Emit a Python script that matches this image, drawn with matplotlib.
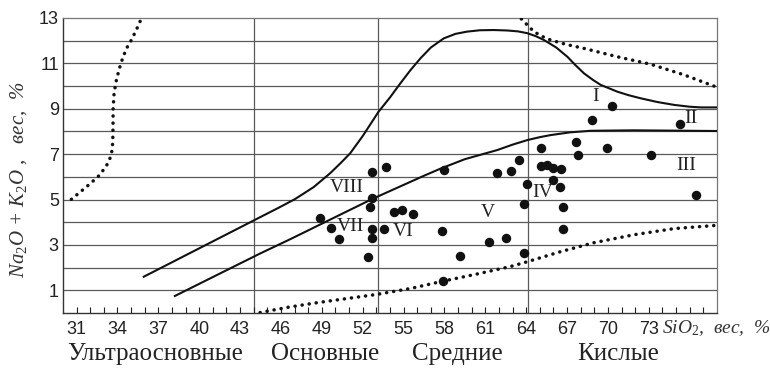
import matplotlib
matplotlib.use("Agg")
import matplotlib.pyplot as plt
import matplotlib.transforms as mtransforms

plt.rcParams['mathtext.fontset'] = 'custom'
plt.rcParams['mathtext.it'] = 'Liberation Serif:italic'
plt.rcParams['mathtext.rm'] = 'Liberation Serif'

# ---- data (SiO2 wt%, Na2O+K2O wt%) ----
sio2 = [48.87, 49.68, 50.27, 52.37, 52.50, 52.68, 52.68, 52.68, 52.70, 53.53,
        53.73, 54.32, 54.88, 55.66, 57.83, 57.87, 57.94, 59.17, 61.28, 61.87,
        62.50, 62.89, 63.46, 63.83, 63.83, 64.08, 65.09, 65.11, 65.50, 65.96,
        65.98, 66.58, 66.51, 66.70, 66.70, 67.68, 67.80, 68.86, 69.89, 70.31,
        73.12, 75.30, 76.49]
alk = [4.19, 3.73, 3.25, 2.48, 4.67, 5.05, 6.23, 3.71, 3.29, 3.69,
       6.43, 4.43, 4.55, 4.35, 3.61, 1.41, 6.30, 2.53, 3.12, 6.18,
       3.32, 6.24, 6.75, 4.80, 2.63, 5.67, 7.26, 6.46, 6.53, 6.40,
       5.86, 6.35, 5.57, 4.68, 3.69, 7.52, 6.95, 8.52, 7.28, 9.12,
       6.95, 8.32, 5.22]

# upper solid boundary
upper_x = [35.93, 44.46, 45.8, 47.03, 48.4, 49.61, 50.4, 51.08, 52.0, 53.16,
           54.0, 54.76, 55.5, 56.23, 57.0, 57.94, 58.8, 59.66, 60.6, 61.62,
           62.6, 63.4, 64.08, 64.7, 65.30, 66.2, 67.02, 67.6, 68.24, 68.9,
           69.47, 70.70, 71.5, 72.41, 73.6, 74.86, 76.0, 76.83, 78.0]
upper_y = [1.60, 4.22, 4.63, 5.02, 5.55, 6.16, 6.62, 7.04, 7.80, 8.87,
           9.50, 10.12, 10.70, 11.22, 11.70, 12.10, 12.30, 12.40, 12.46, 12.47,
           12.45, 12.41, 12.33, 12.20, 12.03, 11.70, 11.29, 10.93, 10.56, 10.27,
           10.05, 9.75, 9.60, 9.46, 9.30, 9.17, 9.09, 9.06, 9.06]
# lower solid boundary
lower_x = [38.21, 44.46, 46.67, 52.68, 56.5, 57.70, 59.5, 61.87, 63.0, 64.08,
           65.0, 65.79, 67.2, 68.73, 71.92, 78.0]
lower_y = [0.75, 2.62, 3.25, 5.02, 6.05, 6.36, 6.78, 7.18, 7.42, 7.62,
           7.75, 7.84, 7.96, 8.03, 8.05, 8.02]
# dotted curves
ultra_x = [30.61, 31.3, 32.0, 32.69, 33.2, 33.55, 33.65, 33.67, 33.68, 33.75,
           33.92, 34.15, 34.41, 34.7, 35.02, 35.4, 35.76]
ultra_y = [5.01, 5.35, 5.70, 6.08, 6.50, 6.95, 7.50, 8.20, 9.00, 9.70,
           10.27, 10.80, 11.29, 11.70, 12.03, 12.50, 12.99]
top_x = [63.64, 64.08, 64.56, 65.2, 65.79, 66.9, 68.24, 70.70, 73.15, 75.60, 78.0]
top_y = [12.96, 12.69, 12.40, 12.18, 12.03, 11.84, 11.66, 11.29, 10.96, 10.49, 9.95]
bot_x = [44.46, 46.5, 48.6, 51.0, 53.04, 55.5, 57.87, 60.4, 62.85, 64.08,
         66.5, 68.98, 71.92, 74.86, 77.93]
bot_y = [0.02, 0.25, 0.45, 0.65, 0.82, 1.08, 1.40, 1.72, 2.05, 2.26,
         2.70, 3.10, 3.45, 3.72, 3.86]

field_labels = ['I', 'II', 'III', 'IV', 'V', 'VI', 'VII', 'VIII']
field_x = [69.10, 76.09, 75.72, 65.20, 61.16, 54.98, 51.08, 50.86]
field_y = [9.52, 8.59, 6.48, 5.33, 4.41, 3.57, 3.79, 5.55]

boundaries = [44.0, 53.1, 64.1]
groups = ['Ультраосновные', 'Основные', 'Средние', 'Кислые']
group_x = [36.74, 49.24, 58.95, 70.72]

xticks = list(range(31, 74, 3))
yticks = list(range(1, 14, 2))

# ---- figure ----
fig = plt.figure(figsize=(7.7, 3.73), dpi=100)
ax = fig.add_axes([63/770, 1-313/373, (717-63)/770, (313-18)/373])
ax.set_xlim(30, 78)
ax.set_ylim(0, 13)

gcol = '#5a5a5a'
for yv in range(1, 13):
    ax.axhline(yv, color=gcol, lw=0.9, zorder=1)
for xv in boundaries:
    ax.axvline(xv, color=gcol, lw=0.9, zorder=1)

ax.plot(upper_x, upper_y, color='#111111', lw=1.5, zorder=3, solid_joinstyle='round')
ax.plot(lower_x, lower_y, color='#111111', lw=1.5, zorder=3, solid_joinstyle='round')
for xs, ys in [(ultra_x, ultra_y), (top_x, top_y), (bot_x, bot_y)]:
    ax.plot(xs, ys, color='#111111', lw=2.5, linestyle=(0, (0.05, 2.0)),
            dash_capstyle='round', zorder=3)

ax.plot(sio2, alk, 'o', color='#111111', ms=5.8, zorder=4)

for t, xv, yv in zip(field_labels, field_x, field_y):
    ax.text(xv, yv, t, family='Liberation Serif', fontsize=14, ha='center',
            va='center', color='#222222', zorder=5)

ax.set_xticks(xticks)
ax.set_xticks(list(range(31, 78)), minor=True)
ax.set_yticks(yticks)
ax.tick_params(axis='x', which='both', direction='in', length=4.5, width=0.8,
               color='#222222', pad=6)
ax.tick_params(axis='y', which='both', length=0, pad=3)
for lab in ax.get_xticklabels() + ax.get_yticklabels():
    lab.set_family('Liberation Sans')
    lab.set_fontsize(13)
    lab.set_color('#222222')

for s in ['left', 'bottom']:
    ax.spines[s].set_color('#333333')
    ax.spines[s].set_linewidth(1.0)
for s in ['top', 'right']:
    ax.spines[s].set_color('#777777')
    ax.spines[s].set_linewidth(0.9)

fig.text(662/770, 1-328/373, r'$SiO_2$,  вес,  %', family='Liberation Serif',
         style='italic', fontsize=14, ha='left', va='center', color='#333333')
fig.text(19/770, 1-180/373, r'$Na_2O$ + $K_2O$ ,   вес,  %', family='Liberation Serif',
         style='italic', fontsize=15, rotation=90, ha='center', va='center',
         color='#333333')

trans = mtransforms.blended_transform_factory(ax.transData, fig.transFigure)
for t, xv in zip(groups, group_x):
    ax.text(xv, 1 - 354/373, t, transform=trans, family='Liberation Serif',
            fontsize=18, ha='center', va='center', color='#222222')

fig.savefig('out.png', dpi=100)
